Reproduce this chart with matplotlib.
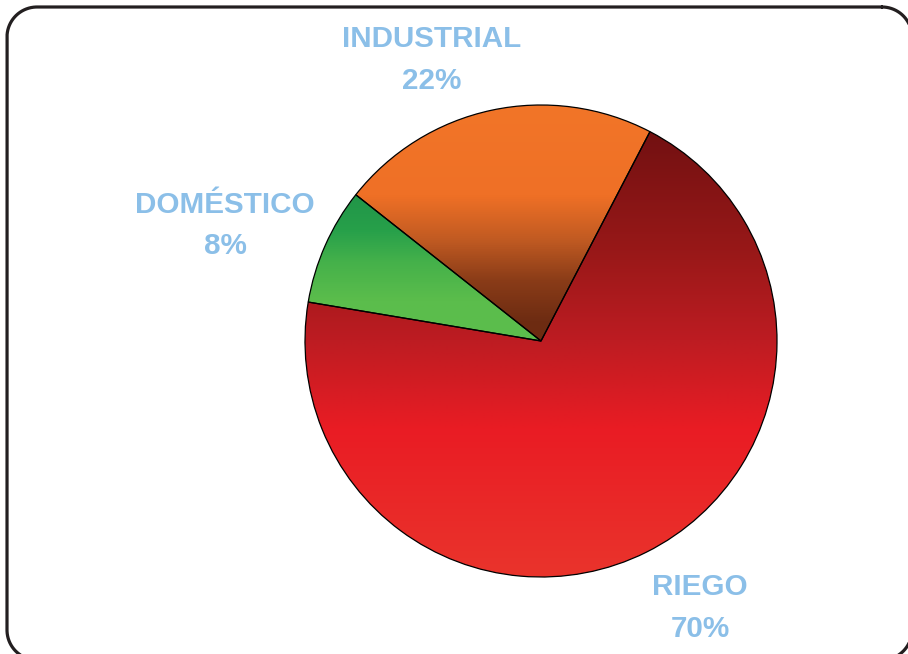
import numpy as np
import matplotlib
matplotlib.use("Agg")
import matplotlib.pyplot as plt
from matplotlib.colors import LinearSegmentedColormap

categories = ["INDUSTRIAL", "DOMÉSTICO", "RIEGO"]
values = [22, 8, 70]
labels_pct = ["22%", "8%", "70%"]

W, H = 908, 654
fig = plt.figure(figsize=(W / 100, H / 100), dpi=100)
ax = fig.add_axes([0, 0, 1, 1])

cx, cy, r = 541, H - 341, 236
wedges, _ = ax.pie(values, startangle=62.5, counterclock=True, center=(cx, cy), radius=r,
                   frame=True, wedgeprops=dict(edgecolor="black", linewidth=0.9))
ax.set_xlim(0, W)
ax.set_ylim(0, H)
ax.set_aspect("auto")
ax.axis("off")

# rounded frame (image pixel coords: left 7, top 7, extends past right/bottom)
def rounded_rect(x0, y0, x1, y1, rad, n=40):
    pts = []
    corners = [(x1 - rad, y0 + rad, -90, 0), (x1 - rad, y1 - rad, 0, 90),
               (x0 + rad, y1 - rad, 90, 180), (x0 + rad, y0 + rad, 180, 270)]
    for ccx, ccy, a0, a1 in corners:
        t = np.radians(np.linspace(a0, a1, n))
        pts.append(np.column_stack([ccx + rad * np.cos(t), ccy + rad * np.sin(t)]))
    p = np.vstack(pts + [pts[0][:1]])
    return p

fr = rounded_rect(7, 7, 912, 660, 30)
ax.plot(fr[:, 0], H - fr[:, 1], color="#231f20", linewidth=2.3, zorder=1, solid_capstyle="round")

# vertical gradients: stops given in image-pixel y (top=0)
grads = [
    [(105, "#f27528"), (195, "#ef7026"), (240, "#c05a22"), (280, "#8a3c18"), (320, "#6e2c12"), (345, "#682a10")],
    [(192, "#117a44"), (230, "#27a04a"), (262, "#45b14a"), (300, "#5bbd4c"), (345, "#5cc04c")],
    [(130, "#6a0f10"), (250, "#981818"), (340, "#bd1c22"), (430, "#ea1c24"), (580, "#e9342c")],
]
y0_img, y1_img = H - (cy + r), H - (cy - r)
for w, stops in zip(wedges, grads):
    pos = [(s[0] - y0_img) / (y1_img - y0_img) for s in stops]
    pos = [min(max(p, 0), 1) for p in pos]
    pos[0] = 0.0
    pos[-1] = 1.0
    cmap = LinearSegmentedColormap.from_list("g", list(zip(pos, [s[1] for s in stops])))
    grad = np.linspace(0, 1, 512).reshape(-1, 1)
    im = ax.imshow(grad, cmap=cmap, extent=(cx - r, cx + r, cy - r, cy + r),
                   origin="upper", aspect="auto", zorder=2, interpolation="bilinear")
    im.set_clip_path(w)
    w.set_facecolor("none")
    w.set_zorder(3)

ax.set_xlim(0, W)
ax.set_ylim(0, H)
ax.set_aspect("auto")

col = "#8bbfe8"
fs = 21.3
txt = dict(color=col, fontsize=fs, fontweight="bold", family=["Liberation Sans", "DejaVu Sans"],
           ha="center", va="baseline", zorder=5)
label_pos = [(432, 47, 89), (225, 213, 254), (700, 595, 637)]
for cat, pct, (x, yb1, yb2) in zip(categories, labels_pct, label_pos):
    ax.text(x, H - yb1, cat, **txt)
    ax.text(x, H - yb2, pct, **txt)

fig.savefig("out.png", dpi=100)
